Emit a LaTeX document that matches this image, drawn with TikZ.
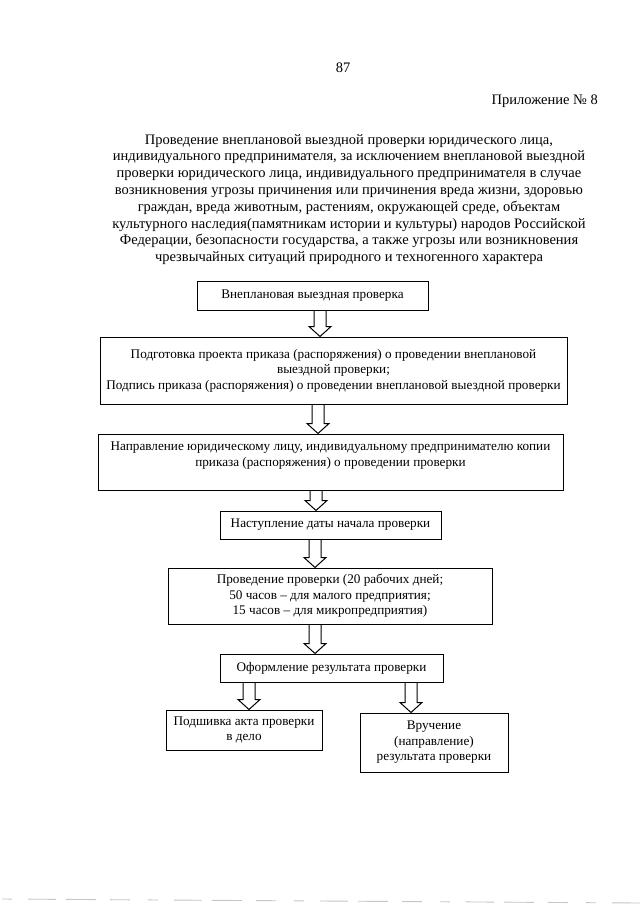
\documentclass[tikz,border=0pt]{standalone}
\usepackage{fontspec}
\setmainfont{Liberation Serif}
\usetikzlibrary{calc}
\newcommand\blockarrow[3]{%
  \draw[blockline] let \p1=(#2.south), \p2=(#3.north) in
    (#1-6,\y1) -- (#1-6,\y2+10pt) -- (#1-11,\y2+10pt) -- (#1,\y2)
    -- (#1+11,\y2+10pt) -- (#1+6,\y2+10pt) -- (#1+6,\y1);}
\begin{document}
\begin{tikzpicture}[x=1pt,y=-1pt,
  stepbox/.style={draw, line width=1pt, align=center, inner sep=0pt,
    font=\fontsize{13.2}{15.5}\selectfont},
  blockline/.style={line width=1pt, line join=miter},
  headtext/.style={inner sep=0pt, font=\fontsize{14.5}{16.8}\selectfont}]
\useasboundingbox (0,0) rectangle (640,905);
\fill[white] (0,0) rectangle (640,905);

\node[headtext] (pg) at (343,68) {87};
\node[headtext, anchor=east] (app) at (598,101) {Приложение № 8};
\node[headtext, align=center] (title) at (349,199.5) {Проведение внеплановой выездной проверки юридического лица,\\
индивидуального предпринимателя, за исключением внеплановой выездной\\
проверки юридического лица, индивидуального предпринимателя в случае\\
возникновения угрозы причинения или причинения вреда жизни, здоровью\\
граждан, вреда животным, растениям, окружающей среде, объектам\\
культурного наследия(памятникам истории и культуры) народов Российской\\
Федерации, безопасности государства, а также угрозы или возникновения\\
чрезвычайных ситуаций природного и техногенного характера};

\node[stepbox, minimum width=231, minimum height=29] (b1) at (312.5,295.5) {Внеплановая выездная проверка};
\node[stepbox, minimum width=467, minimum height=67] (b2) at (333.5,370.5) {Подготовка проекта приказа (распоряжения) о проведении внеплановой\\ выездной проверки;\\ Подпись приказа (распоряжения) о проведении внеплановой выездной проверки};
\node[stepbox, minimum width=465, minimum height=56] (b3) at (330.5,462) {Направление юридическому лицу, индивидуальному предпринимателю копии\\ приказа (распоряжения) о проведении проверки\\ ~};
\node[stepbox, minimum width=221, minimum height=28] (b4) at (330.5,525) {Наступление даты начала проверки};
\node[stepbox, minimum width=324, minimum height=56] (b5) at (330,596) {Проведение проверки (20 рабочих дней;\\ 50 часов – для малого предприятия;\\ 15 часов – для микропредприятия)};
\node[stepbox, minimum width=223, minimum height=28] (b6) at (331.5,668) {Оформление результата проверки};
\node[stepbox, minimum width=156, minimum height=40] (b7) at (244,730) {Подшивка акта проверки\\ в дело};
\node[stepbox, minimum width=148, minimum height=59] (b8) at (434,742.5) {Вручение\\ (направление)\\ результата проверки};

\blockarrow{320}{b1}{b2}
\blockarrow{318}{b2}{b3}
\blockarrow{316}{b3}{b4}
\blockarrow{315}{b4}{b5}
\blockarrow{315}{b5}{b6}
\blockarrow{249}{b6}{b7}
\blockarrow{411}{b6}{b8}

\draw[gray!45, line width=0.9pt, dash pattern=on 10pt off 16pt on 28pt off 10pt on 30pt off 14pt on 20pt off 18pt]
  (2,899) -- (640,903);
\end{tikzpicture}
\end{document}
